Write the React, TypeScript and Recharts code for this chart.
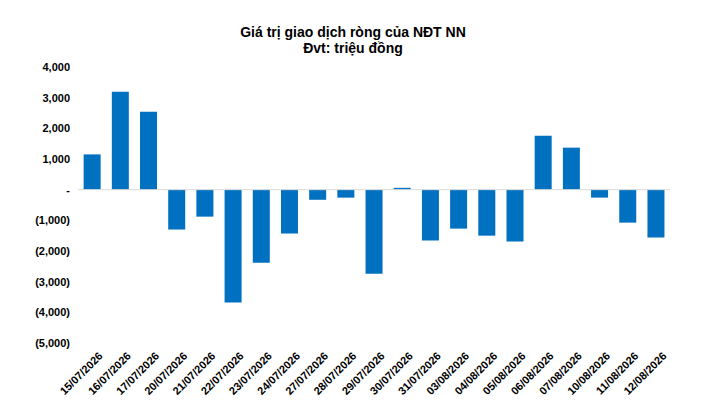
import { Bar, BarChart, XAxis, YAxis, ReferenceLine } from 'recharts'

const dates = [
  '15/07/2026', '16/07/2026', '17/07/2026', '20/07/2026', '21/07/2026', '22/07/2026', '23/07/2026',
  '24/07/2026', '27/07/2026', '28/07/2026', '29/07/2026', '30/07/2026', '31/07/2026', '03/08/2026',
  '04/08/2026', '05/08/2026', '06/08/2026', '07/08/2026', '10/08/2026', '11/08/2026', '12/08/2026',
]
const netValues = [
  1150, 3190, 2540, -1300, -880, -3680, -2380, -1430, -330, -260, -2740, 60, -1660, -1270,
  -1500, -1690, 1760, 1370, -260, -1075, -1560,
]
const yTicks = [-5000, -4000, -3000, -2000, -1000, 0, 1000, 2000, 3000, 4000]

const data = dates.map((d, i) => ({ date: d, value: netValues[i] }))

const fmt = (v: number) => {
  if (v === 0) return '-'
  const s = Math.abs(v).toLocaleString('en-US')
  return v < 0 ? `(${s})` : s
}

const DateTick = ({ x, y, payload }: any) => (
  <text x={x} y={y} dy={12} dx={4} transform={`rotate(-45 ${x} ${y})`} textAnchor="end"
    fontSize={11} fontWeight="bold" fill="#000" fontFamily="Liberation Sans, Arial, sans-serif">
    {payload.value}
  </text>
)

export default function App() {
  return (
    <div style={{ position: 'relative', width: 690, height: 397, fontFamily: 'Liberation Sans, Arial, sans-serif' }}>
      <div style={{ position: 'absolute', top: 16, left: 0, width: 690, textAlign: 'center', fontWeight: 'bold', fontSize: 14, lineHeight: '16px', color: '#000' }}>
        Giá trị giao dịch ròng của NĐT NN<br />Đvt: triệu đồng
      </div>
      <BarChart width={690} height={397} data={data} barCategoryGap="20%"
        margin={{ top: 59, right: 28, left: 10, bottom: 0 }}>
        <XAxis dataKey="date" height={62} interval={0} axisLine={false} tickLine={false} tick={<DateTick />} />
        <YAxis domain={[-5000, 4000]} ticks={yTicks} tickFormatter={fmt} width={60} axisLine={false} tickLine={false}
          tick={{ fontSize: 11, fontWeight: 'bold', fill: '#000' }} interval={0} />
        <ReferenceLine y={0} stroke="#d9d9d9" />
        <Bar dataKey="value" fill="#0070C0" isAnimationActive={false} />
      </BarChart>
    </div>
  )
}
